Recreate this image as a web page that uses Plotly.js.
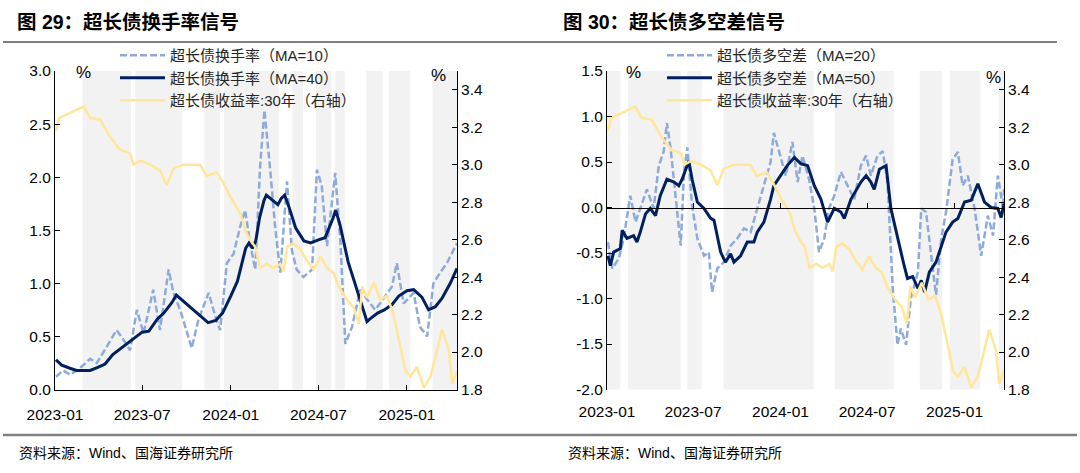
<!DOCTYPE html>
<html>
<head>
<meta charset="utf-8">
<script src="https://cdn.plot.ly/plotly-3.0.1.min.js"></script>
<style>
  html, body { margin: 0; padding: 0; background: #fff; }
  #chart { width: 1080px; height: 473px; }
</style>
</head>
<body>
<div id="chart"></div>
<script>
// ---- data ----
var xTickVals = ['2023-01-01', '2023-07-01', '2024-01-01', '2024-07-01', '2025-01-01'];
var xTickText = ['2023-01', '2023-07', '2024-01', '2024-07', '2025-01'];

// 图29 超长债换手率 (MA=10)
var turnDates10 = ['2023-01-03','2023-01-18','2023-02-01','2023-02-22','2023-03-15','2023-03-29','2023-04-18','2023-05-09','2023-05-23','2023-06-06','2023-06-20','2023-07-04','2023-07-24','2023-08-07','2023-08-25','2023-09-04','2023-09-18','2023-10-05','2023-10-12','2023-10-26','2023-11-16','2023-11-30','2023-12-10','2023-12-24','2024-01-07','2024-01-21','2024-01-31','2024-02-10','2024-02-21','2024-03-02','2024-03-11','2024-03-23','2024-04-02','2024-04-13','2024-04-27','2024-05-07','2024-05-17','2024-05-31','2024-06-18','2024-06-28','2024-07-08','2024-07-19','2024-08-05','2024-08-16','2024-08-26','2024-09-09','2024-09-26','2024-10-10','2024-10-27','2024-11-14','2024-12-01','2024-12-11','2024-12-25','2025-01-15','2025-01-28','2025-02-12','2025-02-25','2025-03-11','2025-03-25','2025-04-15'];
var turnMA10 = [0.12,0.18,0.14,0.20,0.29,0.25,0.40,0.56,0.47,0.37,0.75,0.53,0.94,0.56,1.13,0.91,0.75,0.50,0.39,0.66,0.91,0.69,0.56,1.19,1.28,1.54,1.69,1.38,1.13,2.10,2.63,2.07,1.54,1.10,1.96,1.31,1.13,1.06,1.13,2.07,1.92,1.35,2.04,1.38,0.43,0.59,0.94,0.85,0.75,0.86,0.97,1.19,0.81,0.91,0.59,0.50,1.00,1.10,1.19,1.38];

// 图29 超长债换手率 (MA=40)
var turnDates40 = ['2023-01-03','2023-01-15','2023-02-01','2023-02-15','2023-03-01','2023-03-15','2023-04-01','2023-04-15','2023-05-01','2023-05-15','2023-06-01','2023-06-15','2023-07-01','2023-07-15','2023-08-01','2023-08-15','2023-09-01','2023-09-10','2023-09-15','2023-10-01','2023-10-15','2023-11-01','2023-11-15','2023-12-01','2023-12-15','2024-01-01','2024-01-15','2024-02-01','2024-02-08','2024-02-15','2024-02-22','2024-03-01','2024-03-10','2024-03-15','2024-04-01','2024-04-08','2024-04-15','2024-04-22','2024-05-01','2024-05-15','2024-06-01','2024-06-15','2024-07-01','2024-07-15','2024-08-01','2024-08-06','2024-08-15','2024-09-01','2024-09-15','2024-10-01','2024-10-10','2024-10-15','2024-11-01','2024-11-15','2024-12-01','2024-12-15','2025-01-01','2025-01-15','2025-02-01','2025-02-15','2025-03-01','2025-03-15','2025-04-01','2025-04-15'];
var turnMA40 = [0.28,0.23,0.20,0.18,0.18,0.18,0.21,0.24,0.33,0.38,0.44,0.49,0.54,0.55,0.66,0.72,0.82,0.89,0.87,0.81,0.75,0.68,0.63,0.65,0.72,0.88,1.02,1.33,1.38,1.33,1.40,1.62,1.78,1.83,1.77,1.74,1.80,1.83,1.72,1.52,1.40,1.38,1.41,1.43,1.62,1.69,1.55,1.20,1.00,0.78,0.64,0.66,0.72,0.75,0.80,0.88,0.93,0.94,0.87,0.75,0.78,0.86,1.00,1.14];

// 超长债收益率:30年 (右轴), 两图共用
var yieldDates = ['2023-01-03','2023-01-10','2023-01-27','2023-03-01','2023-03-15','2023-04-05','2023-04-25','2023-05-16','2023-06-06','2023-06-13','2023-06-27','2023-07-18','2023-08-07','2023-08-21','2023-09-04','2023-09-25','2023-10-16','2023-10-29','2023-11-12','2023-12-03','2023-12-17','2023-12-31','2024-01-21','2024-01-31','2024-02-10','2024-02-21','2024-03-02','2024-03-16','2024-03-30','2024-04-13','2024-04-20','2024-04-27','2024-05-10','2024-05-24','2024-06-07','2024-06-21','2024-07-05','2024-07-19','2024-08-02','2024-08-12','2024-08-29','2024-09-12','2024-09-23','2024-09-30','2024-10-10','2024-10-24','2024-11-07','2024-11-21','2024-12-04','2024-12-18','2024-12-29','2025-01-08','2025-01-22','2025-02-05','2025-02-19','2025-03-01','2025-03-15','2025-03-29','2025-04-05','2025-04-15'];
var yield30 = [3.18,3.25,3.27,3.31,3.25,3.24,3.15,3.08,3.06,3.00,3.02,3.00,2.97,2.89,2.98,3.00,3.00,3.00,2.94,2.96,2.90,2.83,2.74,2.65,2.60,2.56,2.45,2.47,2.45,2.47,2.43,2.56,2.58,2.55,2.49,2.44,2.51,2.45,2.42,2.35,2.28,2.24,2.15,2.35,2.29,2.37,2.28,2.30,2.20,2.03,1.90,1.87,1.92,1.81,1.87,1.97,2.12,2.01,1.83,1.90];

// 图30 超长债多空差 (MA=20)
var lsDates20 = ['2023-01-03','2023-01-12','2023-01-26','2023-02-05','2023-02-19','2023-03-02','2023-03-12','2023-03-26','2023-04-09','2023-04-20','2023-04-30','2023-05-07','2023-05-15','2023-05-25','2023-06-05','2023-06-12','2023-06-19','2023-06-29','2023-07-10','2023-07-24','2023-08-03','2023-08-10','2023-08-21','2023-09-04','2023-09-18','2023-10-02','2023-10-16','2023-10-30','2023-11-13','2023-11-27','2023-12-11','2023-12-18','2023-12-29','2024-01-12','2024-01-26','2024-02-06','2024-02-16','2024-03-01','2024-03-12','2024-03-22','2024-04-02','2024-04-12','2024-04-23','2024-05-07','2024-05-21','2024-06-04','2024-06-18','2024-06-29','2024-07-09','2024-07-23','2024-08-03','2024-08-13','2024-08-24','2024-09-03','2024-09-10','2024-09-21','2024-10-01','2024-10-16','2024-10-23','2024-11-02','2024-11-13','2024-11-23','2024-12-04','2024-12-14','2024-12-28','2025-01-08','2025-01-18','2025-01-29','2025-02-12','2025-02-26','2025-03-12','2025-03-23','2025-04-02','2025-04-13','2025-04-15'];
var lsMA20 = [-0.38,-0.67,-0.56,-0.34,0.13,-0.16,-0.01,0.20,-0.01,0.46,0.61,0.93,0.64,0.17,-0.42,0.39,0.66,0.02,-0.34,-0.53,-0.49,-0.93,-0.67,-0.60,-0.42,-0.34,-0.23,-0.27,-0.01,0.24,0.50,0.82,0.61,0.35,0.72,0.28,0.57,0.31,-0.01,-0.49,-0.34,-0.01,0.13,0.39,0.24,0.09,0.46,0.57,0.35,0.57,0.62,0.28,-0.89,-1.51,-1.33,-1.51,-1.00,-0.71,-0.01,-0.05,-0.53,-0.96,-0.34,-0.05,0.53,0.61,0.24,0.35,-0.01,-0.53,-0.09,-0.31,0.35,-0.01,0.20];

// 图30 超长债多空差 (MA=50)
var lsDates50 = ['2023-01-03','2023-01-08','2023-01-15','2023-01-29','2023-02-02','2023-02-12','2023-02-26','2023-03-05','2023-03-12','2023-03-23','2023-04-02','2023-04-13','2023-04-23','2023-05-07','2023-05-22','2023-06-01','2023-06-08','2023-06-22','2023-06-29','2023-07-10','2023-07-24','2023-08-07','2023-08-14','2023-08-28','2023-09-07','2023-09-18','2023-09-25','2023-10-09','2023-10-23','2023-11-06','2023-11-13','2023-11-27','2023-12-11','2023-12-18','2024-01-01','2024-01-15','2024-01-30','2024-02-13','2024-02-27','2024-03-12','2024-03-26','2024-04-09','2024-04-23','2024-05-07','2024-05-14','2024-05-28','2024-06-18','2024-06-29','2024-07-09','2024-07-16','2024-07-27','2024-08-10','2024-08-20','2024-09-03','2024-09-17','2024-09-24','2024-10-05','2024-10-16','2024-10-23','2024-10-30','2024-11-09','2024-11-23','2024-12-04','2024-12-14','2024-12-28','2025-01-08','2025-01-22','2025-02-05','2025-02-19','2025-03-05','2025-03-19','2025-04-02','2025-04-09','2025-04-15'];
var lsMA50 = [-0.53,-0.64,-0.49,-0.45,-0.25,-0.34,-0.31,-0.38,-0.27,-0.07,-0.01,-0.09,0.13,0.31,0.28,0.24,0.31,0.51,0.31,0.06,-0.01,-0.12,-0.14,-0.49,-0.60,-0.51,-0.60,-0.53,-0.38,-0.38,-0.27,-0.16,0.09,0.24,0.35,0.46,0.55,0.48,0.46,0.24,0.09,-0.16,-0.01,-0.05,-0.12,0.09,0.28,0.35,0.28,0.20,0.42,0.46,-0.01,-0.34,-0.64,-0.78,-0.76,-0.89,-0.80,-0.93,-0.71,-0.60,-0.42,-0.27,-0.16,-0.12,0.06,0.08,0.26,0.06,0.00,-0.01,-0.11,0.04];

// 灰色信号区间
var bandsLeftStart = ['2023-02-27','2023-06-17','2023-11-07','2023-12-18','2024-05-08','2024-06-26','2024-08-05','2024-10-09','2024-11-25','2025-02-23'];
var bandsLeftEnd   = ['2023-06-08','2023-09-22','2023-12-10','2024-04-10','2024-05-30','2024-07-28','2024-08-25','2024-11-12','2025-01-08','2025-04-15'];
var bandsRightStart = ['2023-01-01','2023-02-14','2023-06-19','2023-09-03','2024-04-24','2024-10-20','2024-12-22','2025-04-04'];
var bandsRightEnd   = ['2023-01-29','2023-06-05','2023-07-19','2024-03-11','2024-08-26','2024-12-06','2025-02-24','2025-04-15'];

var y3TickVals = [-2, -1.5, -1, -0.5, 0, 0.5, 1, 1.5];
var y3TickText = ['-2.0', '-1.5', '-1.0', '-0.5', '0.0', '0.5', '1.0', '1.5'];

// ---- style ----
var LIGHT_BLUE = 'rgb(142,170,219)';
var NAVY = 'rgb(0,32,96)';
var YELLOW = 'rgb(255,230,153)';
var BAND = '#F2F2F2';
var FONT = 'Liberation Sans, Arial, Noto Sans CJK SC, sans-serif';
var CJK = 'Liberation Sans, Noto Sans CJK SC, sans-serif';

var W = 1080, H = 473;
function px(x) { return x / W; }
function py(y) { return 1 - y / H; }

var domL = [px(55), px(457)];
var domR = [px(607), px(1004)];
var domY = [py(389.5), py(71)];
var xRange = ['2023-01-01', '2025-04-15'];
var y3Range = [-2, 1.5];

function lineTrace(x, y, name, color, width, dash, xa, ya, legend) {
  return {
    x: x, y: y, name: name, type: 'scatter', mode: 'lines',
    xaxis: xa, yaxis: ya, legend: legend,
    line: { color: color, width: width, dash: dash || 'solid' },
    hoverinfo: 'skip'
  };
}

var traces = [
  lineTrace(turnDates10, turnMA10, '超长债换手率（MA=10）', LIGHT_BLUE, 2.5, '7px,3px', 'x', 'y', 'legend'),
  lineTrace(turnDates40, turnMA40, '超长债换手率（MA=40）', NAVY, 3, null, 'x', 'y', 'legend'),
  lineTrace(yieldDates, yield30, '超长债收益率:30年（右轴）', YELLOW, 2.5, null, 'x', 'y2', 'legend'),
  lineTrace(lsDates20, lsMA20, '超长债多空差（MA=20）', LIGHT_BLUE, 2.5, '7px,3px', 'x3', 'y3', 'legend2'),
  lineTrace(lsDates50, lsMA50, '超长债多空差（MA=50）', NAVY, 3, null, 'x3', 'y3', 'legend2'),
  lineTrace(yieldDates, yield30, '超长债收益率:30年（右轴）', YELLOW, 2.5, null, 'x4', 'y4', 'legend2')
];

function baseAxis(extra) {
  var ax = {
    showgrid: false, zeroline: false, showline: true,
    linecolor: '#000', linewidth: 1,
    ticks: 'inside', ticklen: 5, tickcolor: '#000', tickwidth: 1,
    tickfont: { family: FONT, size: 15.5, color: '#000' },
    fixedrange: true
  };
  for (var k in extra) ax[k] = extra[k];
  return ax;
}

var shapes = [];
function addBands(starts, ends, xref, yref) {
  for (var i = 0; i < starts.length; i++) {
    shapes.push({
      type: 'rect', xref: xref, yref: yref + ' domain',
      x0: starts[i], x1: ends[i], y0: 0, y1: 1,
      fillcolor: BAND, line: { width: 0 }, layer: 'below'
    });
  }
}
addBands(bandsLeftStart, bandsLeftEnd, 'x', 'y');
addBands(bandsRightStart, bandsRightEnd, 'x3', 'y3');

// title and footer rules
shapes.push({ type: 'line', xref: 'paper', yref: 'paper', x0: px(3), x1: px(1057), y0: py(42), y1: py(42), line: { color: '#808080', width: 2 } });
shapes.push({ type: 'line', xref: 'paper', yref: 'paper', x0: px(3), x1: px(1077), y0: py(435), y1: py(435), line: { color: '#808080', width: 2.5 } });

function note(text, x, y, size, bold, anchor) {
  return {
    text: bold ? '<b>' + text + '</b>' : text,
    xref: 'paper', yref: 'paper', x: px(x), y: py(y),
    xanchor: anchor || 'left', yanchor: 'middle', showarrow: false,
    font: { family: CJK, size: size, color: '#000' }
  };
}

var annotations = [
  note('图 29：超长债换手率信号', 15, 22, 19.5, true),
  note('图 30：超长债多空差信号', 561, 22, 19.5, true),
  note('资料来源：Wind、国海证券研究所', 17, 453, 14, false),
  note('资料来源：Wind、国海证券研究所', 566, 453, 14, false),
  note('%', 83, 73, 17, false, 'center'),
  note('%', 438, 75, 17, false, 'center'),
  note('%', 633, 73, 17, false, 'center'),
  note('%', 993, 78, 17, false, 'center')
];

var zeroPos = domY[0] + (0 - y3Range[0]) / (y3Range[1] - y3Range[0]) * (domY[1] - domY[0]);

var legendStyle = {
  bgcolor: 'rgba(0,0,0,0)', borderwidth: 0,
  font: { family: CJK, size: 15, color: '#262626' },
  xanchor: 'left', yanchor: 'top', tracegroupgap: 0,
  itemwidth: 45, traceorder: 'normal'
};
function legendAt(x, y) {
  var l = {};
  for (var k in legendStyle) l[k] = legendStyle[k];
  l.x = px(x); l.y = py(y);
  return l;
}

var layout = {
  width: W, height: H,
  margin: { l: 0, r: 0, t: 0, b: 0, pad: 0 },
  paper_bgcolor: '#fff', plot_bgcolor: 'rgba(0,0,0,0)',
  showlegend: true,
  legend: legendAt(115, 39),
  legend2: legendAt(662, 39),
  xaxis: baseAxis({ domain: domL, anchor: 'y', type: 'date', range: xRange, tickmode: 'array', tickvals: xTickVals, ticktext: xTickText, ticklabelstandoff: 11 }),
  yaxis: baseAxis({ domain: domY, anchor: 'x', range: [0, 3], tickmode: 'linear', tick0: 0, dtick: 0.5, tickformat: '.1f' }),
  yaxis2: baseAxis({ overlaying: 'y', side: 'right', anchor: 'x', range: [1.8, 3.5], tickmode: 'linear', tick0: 1.8, dtick: 0.2, tickformat: '.1f' }),
  xaxis3: baseAxis({ domain: domR, anchor: 'y3', type: 'date', range: xRange, tickmode: 'array', tickvals: xTickVals, ticktext: xTickText, showline: false, ticks: '', ticklabelstandoff: 11 }),
  yaxis3: baseAxis({ domain: domY, anchor: 'x3', range: y3Range, tickmode: 'array', tickvals: y3TickVals, ticktext: y3TickText }),
  xaxis4: baseAxis({ overlaying: 'x3', anchor: 'free', position: zeroPos, type: 'date', range: xRange, tickmode: 'array', tickvals: xTickVals, showticklabels: false }),
  yaxis4: baseAxis({ overlaying: 'y3', side: 'right', anchor: 'x3', range: [1.8, 3.5], tickmode: 'linear', tick0: 1.8, dtick: 0.2, tickformat: '.1f' }),
  shapes: shapes,
  annotations: annotations
};

Plotly.newPlot('chart', traces, layout, { staticPlot: true, displayModeBar: false });
</script>
</body>
</html>
